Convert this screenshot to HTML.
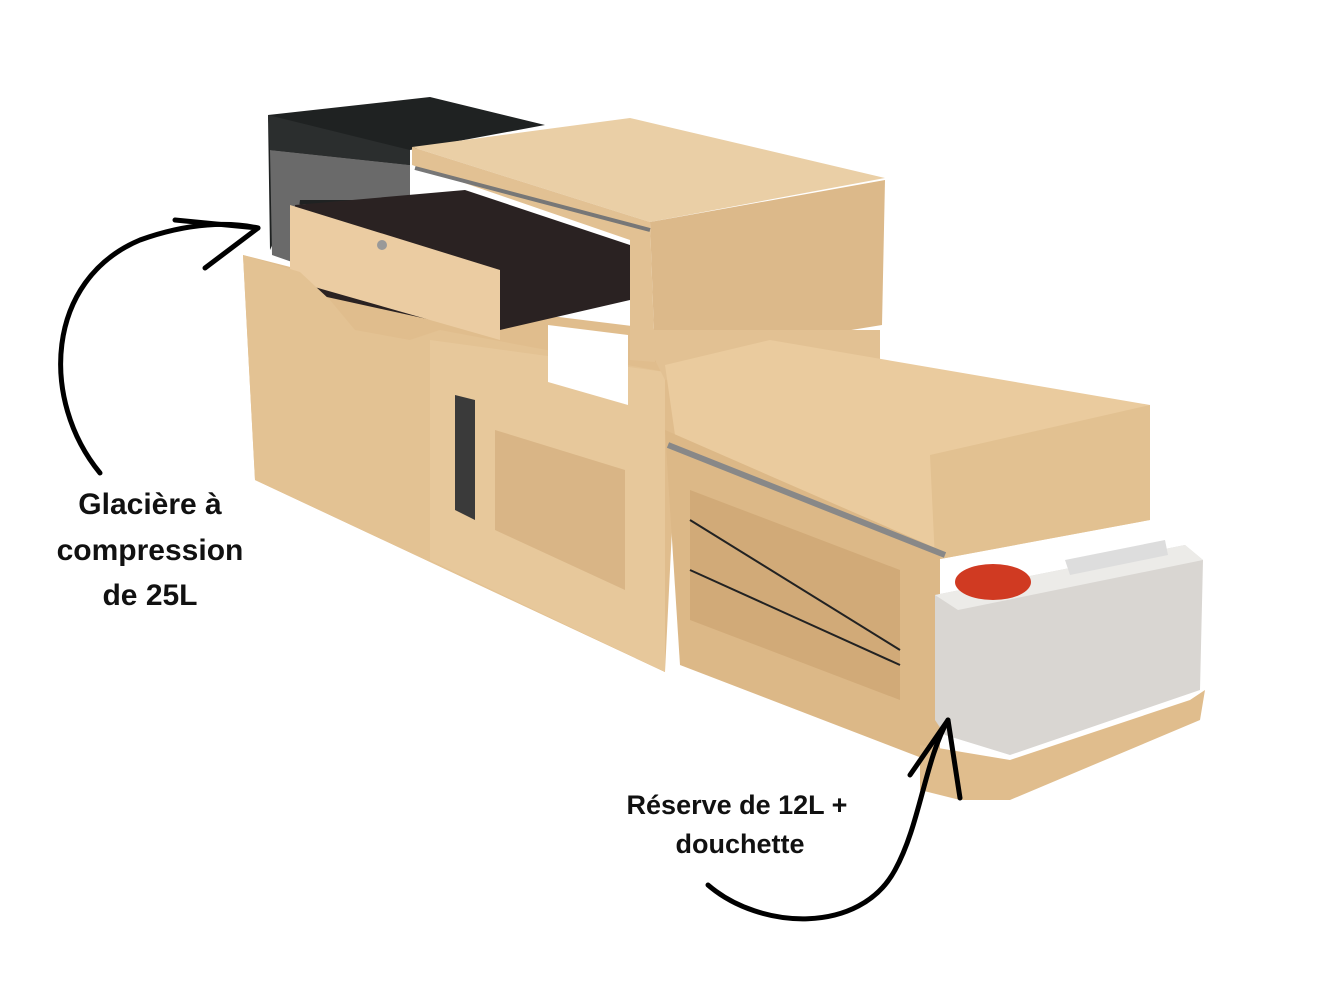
<!DOCTYPE html>
<html><head><meta charset="utf-8"><style>
html,body{margin:0;padding:0;background:#fff;}
svg{display:block}
text{font-family:"Liberation Sans","DejaVu Sans",sans-serif;font-weight:bold;fill:#111}
</style></head><body>
<svg width="1320" height="991" viewBox="0 0 1320 991" xmlns="http://www.w3.org/2000/svg">
<!-- cooler -->
<polygon points="268,115 430,97 545,125 410,150 410,200 290,205 270,250" fill="#1f2222"/>
<polygon points="270,150 410,165 410,200 300,200 292,262 272,255" fill="#6a6a6a"/>
<polygon points="268,115 410,150 410,165 270,150" fill="#2b2e2e"/>
<!-- base fill behind left box -->
<polygon points="243,255 420,300 665,330 680,365 665,672 255,480" fill="#e0bd8d"/>
<!-- top cabinet -->
<polygon points="412,147 630,118 885,178 650,222" fill="#eacfa6"/>
<polygon points="650,222 885,180 882,325 655,362" fill="#dcb98a"/>
<polygon points="412,147 650,222 655,362 630,360 630,240 412,165" fill="#e2c193"/>
<line x1="415" y1="168" x2="650" y2="230" stroke="#777" stroke-width="4"/>
<!-- drawer -->
<polygon points="295,205 465,190 630,245 630,300 500,330 500,335 295,290" fill="#2a2222"/>
<polygon points="290,205 500,270 500,340 290,280" fill="#ebcca2"/>
<circle cx="382" cy="245" r="5" fill="#999"/>
<!-- left long box -->
<polygon points="243,255 300,272 330,300 355,330 410,340 440,330 665,372 665,672 255,480" fill="#e3c293"/>
<polygon points="430,340 665,372 665,672 430,560" fill="#e7c89b"/>
<polygon points="455,395 475,400 475,520 455,510" fill="#3a3a3a"/>
<polygon points="495,430 625,470 625,590 495,530" fill="#d9b586"/>
<polygon points="548,325 628,335 628,405 548,382" fill="#fff"/>
<!-- right drawer box -->
<polygon points="640,330 770,330 880,330 880,360 665,380" fill="#e2c193"/>
<polygon points="665,365 770,340 1150,405 1150,520 935,560 680,470" fill="#eacb9e"/>
<polygon points="930,455 1150,405 1150,520 935,560" fill="#e2c191"/>
<polygon points="665,430 940,550 940,765 680,665" fill="#dcb887"/>
<polygon points="690,490 900,570 900,700 690,620" fill="#d1aa78"/>
<line x1="668" y1="445" x2="945" y2="555" stroke="#888" stroke-width="6"/>
<line x1="690" y1="520" x2="900" y2="650" stroke="#222" stroke-width="2"/>
<line x1="690" y1="570" x2="900" y2="665" stroke="#222" stroke-width="2"/>
<!-- tank -->
<polygon points="935,595 1185,545 1203,560 1200,690 1010,755 945,735 935,720" fill="#d9d6d2"/>
<polygon points="935,595 1185,545 1203,560 958,610" fill="#ecebe8"/>
<ellipse cx="993" cy="582" rx="38" ry="18" fill="#d03a22"/>
<polygon points="1065,560 1165,540 1168,555 1070,575" fill="#dddddd"/>
<polygon points="920,745 1010,760 1190,700 1205,690 1200,720 1010,800 960,800 920,790" fill="#e0bd8d"/>
<!-- arrows -->
<path d="M100,473 C40,400 45,280 140,240 C190,222 230,222 258,228" fill="none" stroke="#000" stroke-width="5" stroke-linecap="round"/>
<path d="M175,220 L258,228 L205,268" fill="none" stroke="#000" stroke-width="5" stroke-linecap="round" stroke-linejoin="round"/>
<path d="M708,885 C760,930 860,935 895,870 C920,825 925,760 948,720" fill="none" stroke="#000" stroke-width="5" stroke-linecap="round"/>
<path d="M910,775 L948,720 L960,798" fill="none" stroke="#000" stroke-width="5" stroke-linecap="round" stroke-linejoin="round"/>
<!-- labels -->
<text x="150" y="514" font-size="30" text-anchor="middle">Glacière à</text>
<text x="150" y="560" font-size="30" text-anchor="middle">compression</text>
<text x="150" y="605" font-size="30" text-anchor="middle">de 25L</text>
<text x="737" y="814" font-size="27" text-anchor="middle">Réserve de 12L +</text>
<text x="740" y="853" font-size="27" text-anchor="middle">douchette</text>
</svg>
</body></html>
